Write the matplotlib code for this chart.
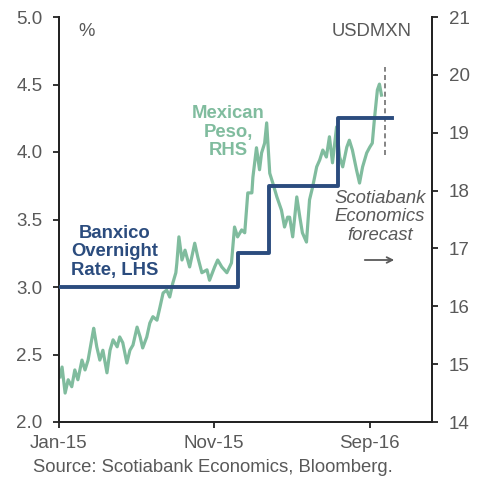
import matplotlib
matplotlib.use("Agg")
import matplotlib.pyplot as plt
import pandas as pd

plt.rcParams['font.family'] = ['Liberation Sans', 'DejaVu Sans']

start = pd.Timestamp('2015-01-01')

# USDMXN, days since Jan 1 2015 / level
peso_days = [2, 6, 12, 18, 25, 31, 37, 45, 51, 57, 65, 68, 74, 80, 86, 94, 100, 106,
             114, 119, 125, 133, 139, 145, 153, 159, 164, 172, 178, 184, 192, 198,
             204, 211, 217, 223, 229, 231, 235, 241, 247, 256, 266, 272, 280, 290,
             295, 305, 311, 319, 329, 338, 344, 350, 358, 364, 370, 378, 380, 387,
             393, 397, 403, 407, 413, 419, 427, 436, 442, 448, 452, 458, 466, 472,
             477, 485, 491, 497, 505, 511, 517, 524, 530, 536, 544, 550, 556, 564,
             569, 575, 583, 589, 595, 603, 609, 614, 618, 622, 624, 628, 632]
peso_vals = [14.78, 14.95, 14.50, 14.73, 14.61, 14.90, 14.73, 15.07, 14.90, 15.07,
             15.47, 15.62, 15.30, 15.07, 15.24, 14.85, 15.24, 15.42, 15.30, 15.47,
             15.37, 15.02, 15.24, 15.33, 15.64, 15.47, 15.28, 15.47, 15.71, 15.82,
             15.76, 15.99, 16.23, 16.28, 16.16, 16.40, 16.58, 16.75, 17.20, 16.80,
             16.97, 16.68, 17.09, 16.85, 16.58, 16.63, 16.45, 16.68, 16.80, 16.68,
             16.58, 16.75, 17.37, 17.20, 17.32, 17.27, 17.96, 17.96, 18.23, 18.74,
             18.36, 18.65, 18.82, 19.17, 18.30, 18.13, 17.89, 17.66, 17.37, 17.54,
             17.54, 17.20, 17.89, 17.54, 17.27, 17.11, 17.84, 18.06, 18.41, 18.53,
             18.70, 18.58, 18.93, 18.48, 19.10, 18.58, 18.41, 18.75, 18.87, 18.70,
             18.36, 18.13, 18.41, 18.65, 18.75, 18.82, 19.22, 19.57, 19.74, 19.84,
             19.65]

# Banxico overnight rate (steps)
rate_dates = ['2015-01-01', '2015-12-17', '2016-02-17', '2016-06-30', '2016-10-15']
rate_vals = [3.0, 3.25, 3.75, 4.25, 4.25]

forecast_date = '2016-09-30'
xtick_dates = ['2015-01-01', '2015-11-01', '2016-09-01']
xtick_labels = ['Jan-15', 'Nov-15', 'Sep-16']

navy = '#2b4c7e'
green = '#80bc9e'
grey = '#595959'

W, H = 484, 479
fig = plt.figure(figsize=(W / 100, H / 100), dpi=100)
ax = fig.add_axes([59 / W, 1 - 422 / H, 373 / W, 405 / H])
ax2 = ax.twinx()


def px(x, y):
    # pixel position -> figure fraction
    return x / W, 1 - y / H


ax.plot(pd.to_datetime(rate_dates), rate_vals, drawstyle='steps-post',
        color=navy, lw=2.8, zorder=3)
ax.plot([pd.Timestamp(forecast_date)] * 2, [3.98, 4.63], color='#707070',
        lw=1.2, ls=(0, (3, 2)), zorder=1)

peso_x = start + pd.to_timedelta(peso_days, unit='D')
ax2.plot(peso_x, peso_vals, color=green, lw=2.3, zorder=2)

ax.set_zorder(ax2.get_zorder() + 1)
ax.patch.set_visible(False)

ax.set_ylim(2.0, 5.0)
ax.set_yticks([2.0, 2.5, 3.0, 3.5, 4.0, 4.5, 5.0])
ax.set_yticklabels(['2.0', '2.5', '3.0', '3.5', '4.0', '4.5', '5.0'])
ax2.set_ylim(14, 21)
ax2.set_yticks(range(14, 22))
ax.set_xlim(pd.Timestamp('2015-01-01'), pd.Timestamp('2017-01-01'))
ax.set_xticks(pd.to_datetime(xtick_dates))
ax.set_xticklabels(xtick_labels)

for a in (ax, ax2):
    a.spines['top'].set_visible(False)
    for s in ('left', 'right', 'bottom'):
        a.spines[s].set_linewidth(1.3)
        a.spines[s].set_color('#222222')
    a.tick_params(labelsize=13.5, labelcolor=grey, color='#222222', width=1.3,
                  length=4, pad=8)
ax.tick_params(axis='x', pad=5)

fs = 13.3
fig.text(*px(87, 31), '%', color=grey, fontsize=fs, ha='center', va='center')
fig.text(*px(412, 32), 'USDMXN', color=grey, fontsize=fs, ha='right', va='center')
fig.text(*px(228, 132), 'Mexican\nPeso,\nRHS', color=green, fontsize=fs,
         fontweight='bold', ha='center', va='center', linespacing=1.12)
fig.text(*px(115, 252), 'Banxico\nOvernight\nRate, LHS', color=navy, fontsize=fs,
         fontweight='bold', ha='center', va='center', linespacing=1.12)
fig.text(*px(380, 217), 'Scotiabank\nEconomics\nforecast', color=grey, fontsize=fs,
         style='italic', ha='center', va='center', linespacing=1.12)
ax.annotate('', xy=px(397, 260), xytext=px(362, 260), xycoords='figure fraction',
            arrowprops=dict(arrowstyle='->', color=grey, lw=1.3))

fig.text(*px(33, 467), 'Source: Scotiabank Economics, Bloomberg.', color=grey,
         fontsize=fs, ha='left', va='center')

fig.savefig('out.png', dpi=100)
